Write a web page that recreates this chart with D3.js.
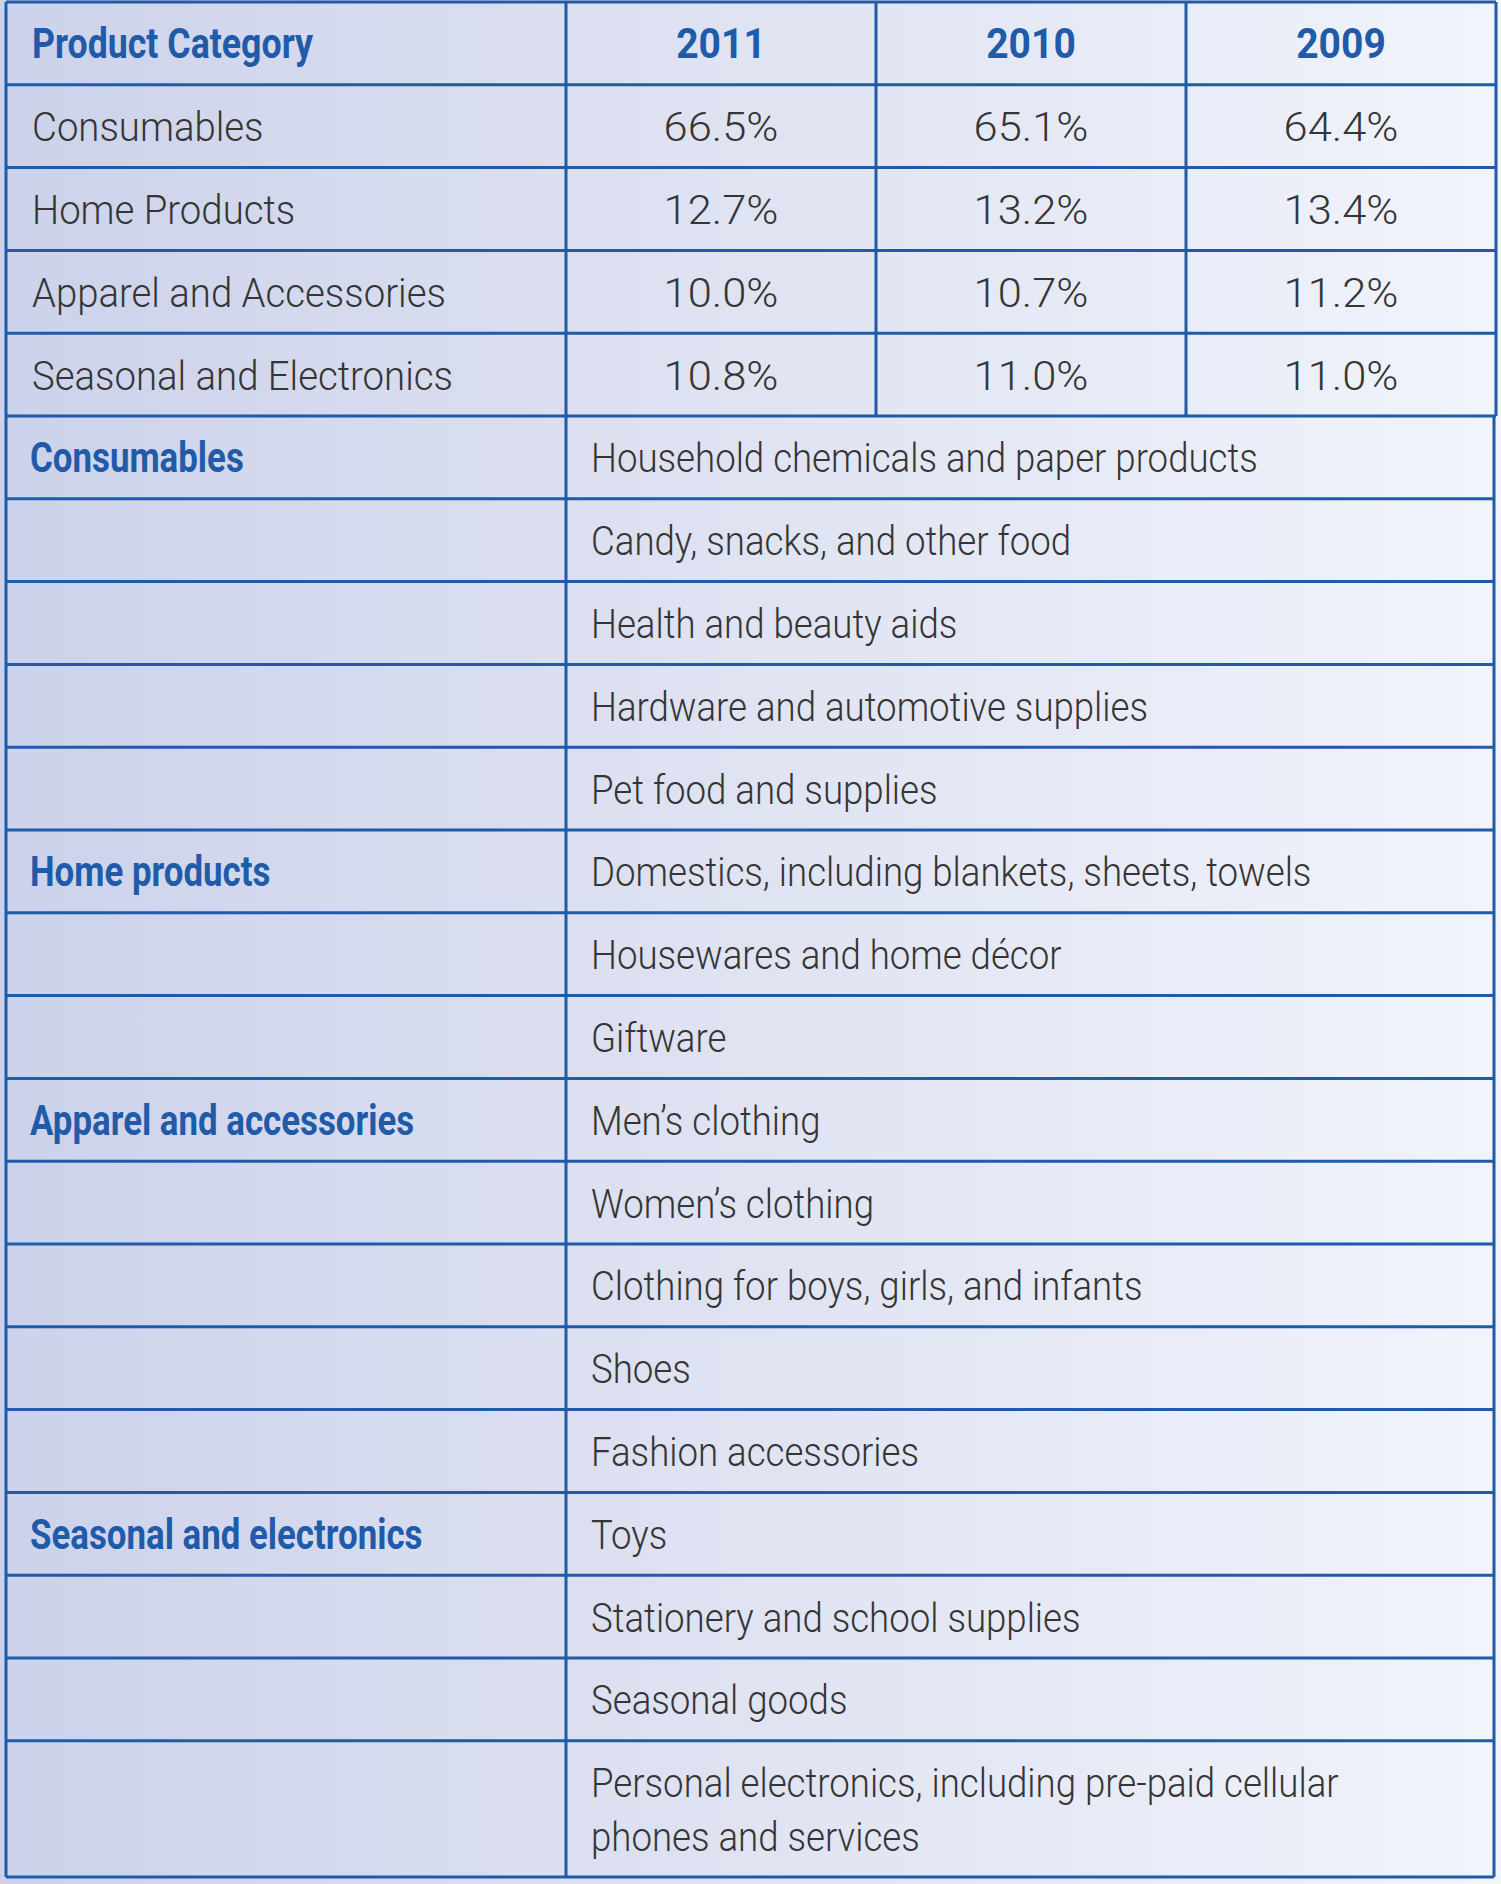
<!DOCTYPE html>
<html><head><meta charset="utf-8">
<script src="https://cdn.jsdelivr.net/npm/d3@7"></script>
<style>html,body{margin:0;padding:0;background:#fff;}svg{display:block;}</style>
</head><body>
<script>
// ---- data ----
const years = ["2011", "2010", "2009"];
const categories = ["Consumables", "Home Products", "Apparel and Accessories", "Seasonal and Electronics"];
const values2011 = ["66.5%", "12.7%", "10.0%", "10.8%"];
const values2010 = ["65.1%", "13.2%", "10.7%", "11.0%"];
const values2009 = ["64.4%", "13.4%", "11.2%", "11.0%"];
const groupNames = ["Consumables", "Home products", "Apparel and accessories", "Seasonal and electronics"];
const groupItems = [
  ["Household chemicals and paper products", "Candy, snacks, and other food", "Health and beauty aids", "Hardware and automotive supplies", "Pet food and supplies"],
  ["Domestics, including blankets, sheets, towels", "Housewares and home décor", "Giftware"],
  ["Men’s clothing", "Women’s clothing", "Clothing for boys, girls, and infants", "Shoes", "Fashion accessories"],
  ["Toys", "Stationery and school supplies", "Seasonal goods", "Personal electronics, including pre-paid cellular|phones and services"]
];
const headerLabel = "Product Category";

// ---- layout ----
const W = 1501, H = 1884;
const BLUE = "#1f5ba8", TEXT = "#353535";
const svg = d3.select("body").append("svg").attr("width", W).attr("height", H);
const defs = svg.append("defs");
const grad = defs.append("linearGradient").attr("id", "bg").attr("x1", "0").attr("x2", "1").attr("y1", "0").attr("y2", "0");
grad.append("stop").attr("offset", "0").attr("stop-color", "#ccd2eb");
grad.append("stop").attr("offset", "0.38").attr("stop-color", "#dbdff0");
grad.append("stop").attr("offset", "1").attr("stop-color", "#f1f4fb");
svg.append("rect").attr("width", W).attr("height", H).attr("fill", "url(#bg)");

// build row list
const rows = [];
rows.push({type: "header"});
categories.forEach((c, i) => rows.push({type: "value", label: c, vals: [values2011[i], values2010[i], values2009[i]]}));
groupNames.forEach((g, gi) => groupItems[gi].forEach((it, j) => rows.push({type: "item", label: j === 0 ? g : "", item: it})));

const nRows = rows.length; // 22
const rowH = 82.8;
const y = d3.scaleLinear().domain([0, nRows - 1]).range([2, 2 + rowH * (nRows - 1)]);
const bottomY = 1877;
const rowTop = i => y(i);
const rowBot = i => i === nRows - 1 ? bottomY : y(i + 1);

const xEdges = [6, 566, 876, 1186];
const xRightTop = 1496, xRightBot = 1494;
const topCount = 1 + categories.length; // rows in top section

const g = svg.append("g");

function addText(x, yy, str, opts) {
  const t = g.append("g").attr("transform", `translate(${x},${yy}) scale(${opts.sx || 1},1)`)
    .append("text")
    .attr("x", 0).attr("y", 0)
    .attr("text-anchor", opts.anchor || "start")
    .attr("dominant-baseline", "alphabetic")
    .style("font-family", "Roboto, 'Liberation Sans', sans-serif")
    .style("font-weight", opts.weight || 300)
    .style("font-size", (opts.size || 42) + "px")
    .style("fill", opts.color || TEXT)
    .text(str);
  return t;
}

const colCenter = k => (xEdges[k + 1] + (k + 2 < xEdges.length ? xEdges[k + 2] : xRightTop)) / 2;

rows.forEach((r, i) => {
  const t = rowTop(i), b = rowBot(i);
  const base = (t + b) / 2 + 15;
  if (r.type === "header") {
    addText(32, base, headerLabel, {weight: 700, color: BLUE, size: 42, sx: 0.85});
    years.forEach((yr, k) => addText(colCenter(k), base, yr, {weight: 700, color: BLUE, size: 42, anchor: "middle", sx: 0.93}));
  } else if (r.type === "value") {
    addText(32, base, r.label, {size: 41, sx: 0.935});
    r.vals.forEach((v, k) => addText(colCenter(k), base, v, {size: 41, anchor: "middle", sx: 1.06}));
  } else {
    if (r.label) addText(30, base, r.label, {weight: 700, color: BLUE, size: 42, sx: 0.83});
    const lines = r.item.split("|");
    if (lines.length === 1) {
      addText(591, base, lines[0], {size: 41, sx: 0.893});
    } else {
      lines.forEach((ln, li) => addText(591, (t + b) / 2 + 15 + (li - 0.5) * 54, ln, {size: 41, sx: 0.893}));
    }
  }
});

// ---- grid lines ----
const lineG = svg.append("g").attr("stroke", BLUE).attr("stroke-width", 3).attr("fill", "none");
// horizontal lines
for (let i = 0; i <= nRows; i++) {
  const yy = i === nRows ? bottomY : y(i);
  const xr = i <= topCount ? xRightTop : xRightBot;
  lineG.append("line").attr("x1", xEdges[0]).attr("x2", xr).attr("y1", yy).attr("y2", yy);
}
// outer left
lineG.append("line").attr("x1", xEdges[0]).attr("x2", xEdges[0]).attr("y1", y(0)).attr("y2", bottomY);
// right borders
lineG.append("line").attr("x1", xRightTop).attr("x2", xRightTop).attr("y1", y(0)).attr("y2", y(topCount));
lineG.append("line").attr("x1", xRightBot).attr("x2", xRightBot).attr("y1", y(topCount)).attr("y2", bottomY);
// first column divider full height
lineG.append("line").attr("x1", xEdges[1]).attr("x2", xEdges[1]).attr("y1", y(0)).attr("y2", bottomY);
// year column dividers top section
[2, 3].forEach(k => lineG.append("line").attr("x1", xEdges[k]).attr("x2", xEdges[k]).attr("y1", y(0)).attr("y2", y(topCount)));
</script>
</body></html>
